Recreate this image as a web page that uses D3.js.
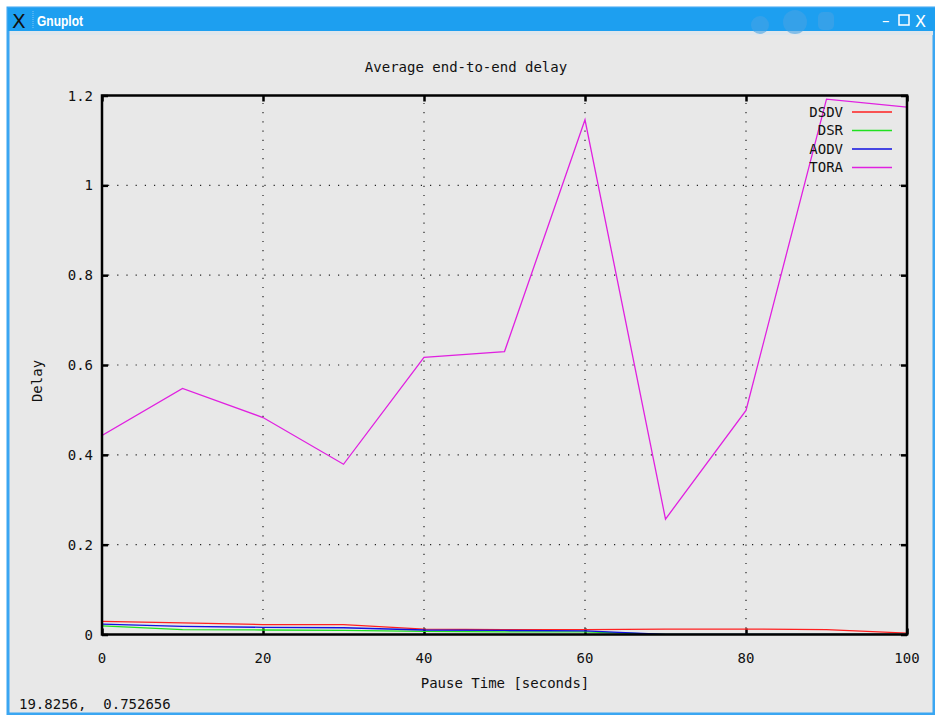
<!DOCTYPE html>
<html>
<head>
<meta charset="utf-8">
<script src="https://cdn.jsdelivr.net/npm/d3@7"></script>
<style>
  html, body { margin: 0; padding: 0; background: #ffffff; }
  svg { display: block; }
  .mono { font-family: "DejaVu Sans Mono", "Liberation Mono", monospace; fill: #111; }
</style>
</head>
<body>
<svg id="chart" width="935" height="715"></svg>
<script>
// Pause times (x) and average end-to-end delay per routing protocol
const pauseTimes = [0, 10, 20, 30, 40, 50, 60, 70, 80, 90, 100];
const dsdvDelay = [0.029, 0.026, 0.022, 0.022, 0.012, 0.011, 0.011, 0.012, 0.012, 0.011, 0.003];
const dsrDelay  = [0.019, 0.011, 0.010, 0.009, 0.007, 0.006, 0.006, 0.000, 0.000, 0.000, 0.000];
const aodvDelay = [0.023, 0.018, 0.016, 0.015, 0.010, 0.009, 0.008, 0.000, 0.000, 0.000, 0.000];
const toraDelay = [0.443, 0.548, 0.483, 0.379, 0.617, 0.630, 1.146, 0.257, 0.499, 1.192, 1.174];

const seriesNames = ["DSDV", "DSR", "AODV", "TORA"];
const seriesColors = ["#ff2020", "#20e020", "#1010e0", "#e020e0"];
const seriesValues = [dsdvDelay, dsrDelay, aodvDelay, toraDelay];

const xTicks = [0, 20, 40, 60, 80, 100];
const yTicks = [0, 0.2, 0.4, 0.6, 0.8, 1, 1.2];
const yTickLabels = ["0", "0.2", "0.4", "0.6", "0.8", "1", "1.2"];

const svg = d3.select("#chart");
const W = 935, H = 715;

// ---- window frame ----
svg.append("rect").attr("x", 0).attr("y", 0).attr("width", W).attr("height", H).attr("fill", "#ffffff");
svg.append("rect").attr("x", 8).attr("y", 8).attr("width", W - 9).attr("height", H - 9)
  .attr("fill", "#e8e8e8").attr("stroke", "#3aa6f2").attr("stroke-width", 3);
// title bar
svg.append("rect").attr("x", 8).attr("y", 8).attr("width", W - 8).attr("height", 23).attr("fill", "#1d9ff0");
svg.append("rect").attr("x", 10).attr("y", 31).attr("width", W - 12).attr("height", 4).attr("fill", "#dfe6ec");
// faint decoration in the title bar
const deco = svg.append("g").attr("fill", "#45a3e6").attr("opacity", 0.6);
deco.append("circle").attr("cx", 795).attr("cy", 22).attr("r", 12);
deco.append("circle").attr("cx", 760).attr("cy", 25).attr("r", 9);
deco.append("rect").attr("x", 818).attr("y", 12).attr("width", 16).attr("height", 18).attr("rx", 5);
svg.append("text").attr("x", 12).attr("y", 28).attr("font-family", "DejaVu Sans")
  .attr("font-size", 20).attr("fill", "#111").attr("transform", "scale(1,1)").text("X");
svg.append("line").attr("x1", 33).attr("x2", 33).attr("y1", 11).attr("y2", 29)
  .attr("stroke", "#7fc4f5").attr("stroke-dasharray", "1,1");
svg.append("text").attr("transform", "translate(37,26) scale(0.8,1)")
  .attr("font-family", "Liberation Sans, sans-serif")
  .attr("font-weight", "bold").attr("font-size", 15).attr("fill", "#ffffff").text("Gnuplot");
svg.append("text").attr("x", 882).attr("y", 26).attr("font-family", "DejaVu Sans")
  .attr("font-size", 15).attr("fill", "#ffffff").text("–");
svg.append("rect").attr("x", 899).attr("y", 15).attr("width", 10).attr("height", 10)
  .attr("fill", "none").attr("stroke", "#ffffff").attr("stroke-width", 1.5);
svg.append("text").attr("x", 915).attr("y", 27).attr("font-family", "DejaVu Sans")
  .attr("font-size", 16).attr("fill", "#ffffff").text("X");

// ---- plot area ----
const plotLeft = 102, plotRight = 907, plotTop = 95.5, plotBottom = 634.5;
const x = d3.scaleLinear().domain([0, 100]).range([plotLeft, plotRight]);
const y = d3.scaleLinear().domain([0, 1.2]).range([plotBottom, plotTop]);

// grid (dotted)
const grid = svg.append("g").attr("stroke", "#222").attr("stroke-width", 1.2)
  .attr("stroke-dasharray", "1.2,8");
xTicks.filter(t => t > 0 && t < 100).forEach(t => {
  grid.append("line").attr("x1", x(t)).attr("x2", x(t)).attr("y1", plotBottom - 6).attr("y2", plotTop + 6);
});
yTicks.filter(t => t > 0 && t < 1.2).forEach(t => {
  grid.append("line").attr("x1", plotLeft + 6).attr("x2", plotRight - 6).attr("y1", y(t)).attr("y2", y(t));
});

// axes: ticks on all four sides, pointing inward
const tickLen = 6;
const axB = d3.axisBottom(x).tickValues(xTicks).tickSize(-tickLen).tickFormat("");
const axT = d3.axisTop(x).tickValues(xTicks).tickSize(-tickLen).tickFormat("");
const axL = d3.axisLeft(y).tickValues(yTicks).tickSize(-tickLen).tickFormat("");
const axR = d3.axisRight(y).tickValues(yTicks).tickSize(-tickLen).tickFormat("");
[[axB, `translate(0,${plotBottom})`], [axT, `translate(0,${plotTop})`],
 [axL, `translate(${plotLeft},0)`], [axR, `translate(${plotRight},0)`]].forEach(([ax, tr]) => {
  const g = svg.append("g").attr("transform", tr).call(ax);
  g.select(".domain").remove();
  g.selectAll(".tick line").attr("stroke", "#000").attr("stroke-width", 2.5);
});

// tick labels
svg.append("g").selectAll("text").data(xTicks).join("text")
  .attr("class", "mono").attr("font-size", 14)
  .attr("x", d => x(d)).attr("y", 663).attr("text-anchor", "middle").text(d => d);
svg.append("g").selectAll("text").data(yTicks).join("text")
  .attr("class", "mono").attr("font-size", 14)
  .attr("x", 93).attr("y", d => y(d) + 5).attr("text-anchor", "end")
  .text((d, i) => yTickLabels[i]);

// series lines
const line = d3.line().x((d, i) => x(pauseTimes[i])).y(d => y(d));
const clip = svg.append("clipPath").attr("id", "plotclip");
clip.append("rect").attr("x", plotLeft).attr("y", plotTop).attr("width", plotRight - plotLeft).attr("height", plotBottom - plotTop);
const lines = svg.append("g").attr("clip-path", "url(#plotclip)");
seriesValues.forEach((vals, k) => {
  lines.append("path").datum(vals).attr("d", line)
    .attr("fill", "none").attr("stroke", seriesColors[k]).attr("stroke-width", 1.3);
});

// frame
svg.append("rect").attr("x", plotLeft).attr("y", plotTop).attr("width", plotRight - plotLeft).attr("height", plotBottom - plotTop)
  .attr("fill", "none").attr("stroke", "#000").attr("stroke-width", 2.5);

// legend
const legend = svg.append("g");
seriesNames.forEach((name, k) => {
  const ly = 112 + k * 18.5;
  legend.append("text").attr("class", "mono").attr("font-size", 14)
    .attr("x", 843).attr("y", ly + 4.5).attr("text-anchor", "end").text(name);
  legend.append("line").attr("x1", 852).attr("x2", 892).attr("y1", ly).attr("y2", ly)
    .attr("stroke", seriesColors[k]).attr("stroke-width", 1.3);
});

// titles
svg.append("text").attr("class", "mono").attr("font-size", 14)
  .attr("x", 466).attr("y", 72).attr("text-anchor", "middle").text("Average end-to-end delay");
svg.append("text").attr("class", "mono").attr("font-size", 14)
  .attr("x", 505).attr("y", 688).attr("text-anchor", "middle").text("Pause Time [seconds]");
svg.append("text").attr("class", "mono").attr("font-size", 14)
  .attr("transform", "translate(42,381) rotate(-90)").attr("text-anchor", "middle").text("Delay");

// status line (mouse coordinates)
svg.append("text").attr("class", "mono").attr("font-size", 14)
  .attr("x", 19).attr("y", 709).text("19.8256,\u00a0\u00a00.752656");
</script>
</body>
</html>
